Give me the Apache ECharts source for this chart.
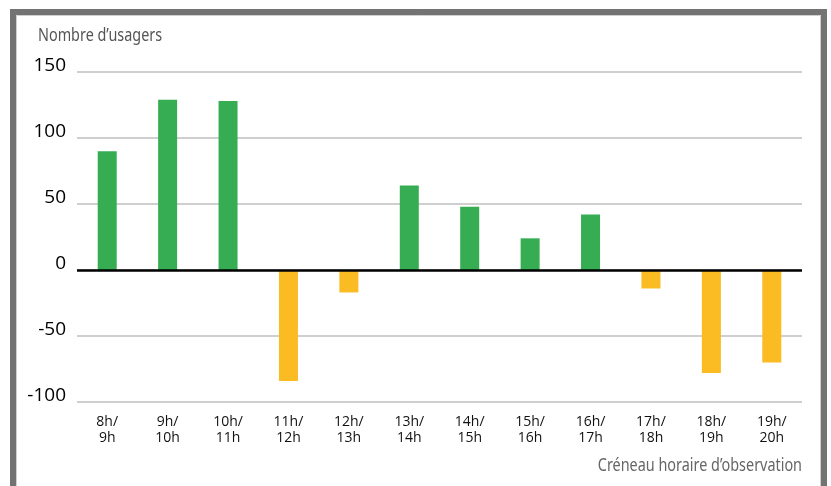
<!DOCTYPE html>
<html>
<head>
<meta charset="utf-8">
<script src="https://cdn.jsdelivr.net/npm/echarts@6/dist/echarts.min.js"></script>
<style>
  html, body { margin: 0; padding: 0; background: #fff; }
  #chart { width: 831px; height: 486px; }
</style>
</head>
<body>
<div id="chart"></div>
<script>
// créneaux horaires
var categories = ['8h/\n9h', '9h/\n10h', '10h/\n11h', '11h/\n12h', '12h/\n13h', '13h/\n14h',
  '14h/\n15h', '15h/\n16h', '16h/\n17h', '17h/\n18h', '18h/\n19h', '19h/\n20h']
// variation du nombre d'usagers
var usagers = [90, 129, 128, -84, -17, 64, 48, 24, 42, -14, -78, -70]
var yMin = -100
var yMax = 150
var yStep = 50

var narrow = '"Noto Sans", sans-serif'

var myChart = echarts.init(document.getElementById('chart'))
var option = {
  animation: false,
  grid: {
    left: 77,
    right: 29,
    top: 72,
    bottom: 84
  },
  graphic: [
    {
      type: 'rect',
      shape: { x: 13, y: 12, width: 811, height: 500 },
      style: { fill: 'none', stroke: '#737373', lineWidth: 6 },
      silent: true
    },
    {
      type: 'rect',
      shape: { x: 16.5, y: 15.5, width: 804, height: 500 },
      style: { fill: 'none', stroke: '#cfcfcf', lineWidth: 1 },
      silent: true
    },
    {
      type: 'text',
      x: 38,
      y: 36,
      scaleX: 0.8,
      style: {
        text: 'Nombre d\u2019usagers',
        fill: '#555',
        font: '18px ' + narrow,
        verticalAlign: 'middle'
      }
    },
    {
      type: 'text',
      x: 802,
      y: 466,
      scaleX: 0.8,
      style: {
        text: 'Créneau horaire d\u2019observation',
        fill: '#666',
        font: '18px ' + narrow,
        align: 'right',
        verticalAlign: 'middle'
      }
    }
  ],
  xAxis: {
    type: 'category',
    data: categories,
    axisLine: { show: false, onZero: false },
    axisTick: { show: false },
    axisLabel: {
      interval: 0,
      margin: 12,
      color: '#111',
      fontSize: 14,
      lineHeight: 16,
      fontFamily: '"Open Sans", sans-serif'
    }
  },
  yAxis: {
    type: 'value',
    min: yMin,
    max: yMax,
    interval: yStep,
    axisLine: { show: false },
    axisTick: { show: false },
    axisLabel: {
      margin: 11,
      color: '#000',
      fontSize: 19,
      fontFamily: '"Open Sans", sans-serif',
      verticalAlign: 'bottom',
      lineHeight: 13
    },
    splitLine: {
      lineStyle: { color: '#cfcfcf', width: 2 }
    }
  },
  series: [
    {
      type: 'bar',
      data: usagers,
      barWidth: 19,
      itemStyle: {
        color: function (p) {
          return p.value >= 0 ? '#36ad52' : '#fbbb22'
        }
      },
      markLine: {
        silent: true,
        symbol: 'none',
        label: { show: false },
        lineStyle: { color: '#000', width: 2.5, type: 'solid' },
        data: [{ yAxis: 0 }]
      }
    }
  ]
}
myChart.setOption(option)
</script>
</body>
</html>
